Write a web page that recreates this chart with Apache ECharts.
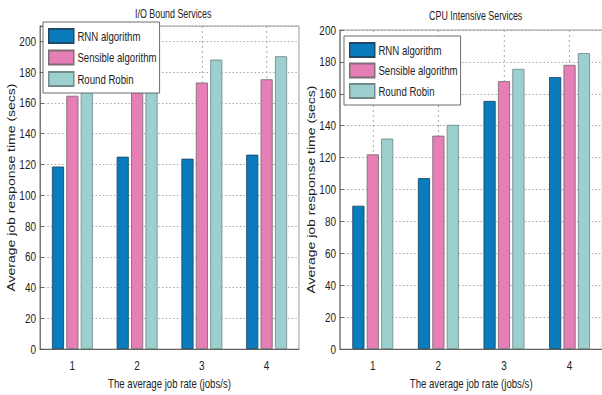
<!DOCTYPE html>
<html>
<head>
<meta charset="utf-8">
<script src="https://cdn.jsdelivr.net/npm/echarts@6/dist/echarts.min.js"></script>
<style>
  html, body { margin: 0; padding: 0; background: #fff; }
  #frame { width: 602px; height: 395px; overflow: hidden; position: relative; }
  /* The figure is laid out wide and compressed horizontally, giving the
     condensed lettering of the exported plot. */
  #chart { width: 814px; height: 395px; transform: scaleX(0.74); transform-origin: 0 0; }
</style>
</head>
<body>
<div id="frame"><div id="chart"></div></div>
<script>
// Job rate categories (jobs/s)
const categories = ['1', '2', '3', '4'];
const seriesNames = ['RNN algorithm', 'Sensible algorithm', 'Round Robin'];

// I/O bound services: average job response time (secs)
const ioRnn = [118.7, 125.1, 123.8, 126.4];
const ioSensible = [164.7, 170.1, 173.3, 175.4];
const ioRoundRobin = [169.6, 172.8, 188.2, 190.4];

// CPU intensive services: average job response time (secs)
const cpuRnn = [89.9, 107.2, 155.6, 170.5];
const cpuSensible = [122.1, 133.8, 168.0, 178.2];
const cpuRoundRobin = [132.0, 140.6, 175.7, 185.6];

const SQUEEZE = 0.74;
const sx = (px) => px / SQUEEZE;   // on-screen horizontal px -> layout px

const sans = '"Liberation Sans", Arial, sans-serif';
const fills = ['#0a7cbd', '#e57fb5', '#9dcfcf'];
const edges = ['#1d4866', '#7d6d74', '#728a8a'];

// Vertical dotted gridlines sit on the category centres: a hidden helper axis
// with twice the resolution places its odd ticks there.
const halfTicks = ['', '', '', '', '', '', '', '', ''];

function mainX(gridIndex) {
  return {
    type: 'category', gridIndex, data: categories,
    axisLine: { lineStyle: { color: '#555', width: 1 } },
    axisTick: { show: true, inside: true, alignWithLabel: true, length: 4, lineStyle: { color: '#555' } },
    axisLabel: { color: '#222', fontFamily: sans, fontSize: 13.5, margin: 9 },
    splitLine: { show: false },
    name: 'The average job rate (jobs/s)', nameLocation: 'middle', nameGap: 23,
    nameTextStyle: { color: '#222', fontFamily: sans, fontSize: 13 }
  };
}

function helperX(gridIndex) {
  return {
    type: 'category', gridIndex, data: halfTicks, boundaryGap: false,
    axisLine: { show: false }, axisTick: { show: false }, axisLabel: { show: false },
    splitLine: {
      show: true,
      interval: (i) => i % 2 === 1,
      lineStyle: { color: '#9a9a9a', type: [2, 3], width: 1 }
    }
  };
}

function valueY(gridIndex, max) {
  return {
    type: 'value', gridIndex, min: 0, max, interval: 20,
    axisLine: { show: true, lineStyle: { color: '#555', width: 1 } },
    axisTick: { show: true, inside: true, length: sx(4), lineStyle: { color: '#555' } },
    axisLabel: {
      color: '#222', fontFamily: sans, fontSize: 13.5, margin: sx(4),
      formatter: (v) => (v % 20 === 0 ? String(v) : '')
    },
    splitLine: { show: true, lineStyle: { color: '#9a9a9a', type: [2, 3], width: 1 } },
    name: 'Average job response time (secs)', nameLocation: 'middle', nameGap: 18,
    nameTextStyle: { color: '#222', fontFamily: sans, fontSize: 14, letterSpacing: 0.3 }
  };
}

function bars(values, k, axisIndex) {
  return {
    name: seriesNames[k], type: 'bar', data: values,
    xAxisIndex: axisIndex * 2, yAxisIndex: axisIndex,
    barWidth: sx(12), barGap: '20%',
    itemStyle: { color: fills[k], borderColor: edges[k], borderWidth: 1 },
    emphasis: { disabled: true },
    animation: false
  };
}

function legendAt(left, top, gap) {
  return {
    left: sx(left), top, orient: 'vertical',
    data: seriesNames,
    icon: 'rect', itemWidth: sx(25), itemHeight: 14, itemGap: gap,
    padding: [6, sx(3), 6, sx(5)],
    backgroundColor: '#fff', borderColor: '#555', borderWidth: 1,
    textStyle: { color: '#222', fontFamily: sans, fontSize: 13 },
    selectedMode: false
  };
}

const chart = echarts.init(document.getElementById('chart'), null, { renderer: 'svg' });
chart.setOption({
  animation: false,
  backgroundColor: '#fff',
  title: [
    { text: 'I/O Bound Services', left: sx(169.5), top: 2, textAlign: 'center',
      textStyle: { fontFamily: sans, fontSize: 12, fontWeight: 'normal', color: '#222' } },
    { text: 'CPU Intensive Services', left: sx(472), top: 4, textAlign: 'center',
      textStyle: { fontFamily: sans, fontSize: 12, fontWeight: 'normal', color: '#222' } }
  ],
  legend: [legendAt(43, 22, 5.5), legendAt(344, 36, 4.5)],
  grid: [
    { left: sx(40), top: 26, width: sx(259), height: 328, show: true,
      borderColor: '#8a8a8a', borderWidth: 1, backgroundColor: 'transparent' },
    { left: sx(340), top: 30, width: sx(264), height: 323, show: true,
      borderColor: '#8a8a8a', borderWidth: 1, backgroundColor: 'transparent' }
  ],
  xAxis: [mainX(0), helperX(0), mainX(1), helperX(1)],
  yAxis: [valueY(0, 210), valueY(1, 200)],
  series: [
    bars(ioRnn, 0, 0), bars(ioSensible, 1, 0), bars(ioRoundRobin, 2, 0),
    bars(cpuRnn, 0, 1), bars(cpuSensible, 1, 1), bars(cpuRoundRobin, 2, 1)
  ]
});
</script>
</body>
</html>
